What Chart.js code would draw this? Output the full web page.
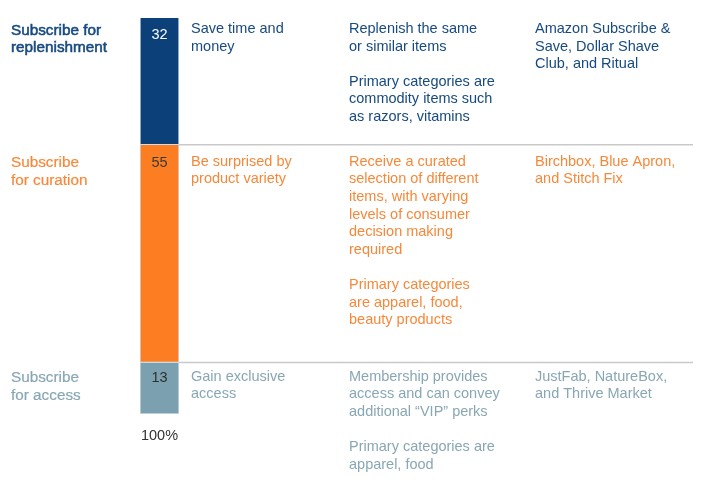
<!DOCTYPE html>
<html>
<head>
<meta charset="utf-8">
<script src="https://cdn.jsdelivr.net/npm/chart.js@4"></script>
<style>
  html, body { margin: 0; padding: 0; background: #fff; }
  #wrap { position: relative; width: 705px; height: 482px; }
</style>
</head>
<body>
<div id="wrap"><canvas id="modelChart"></canvas></div>
<script>
const models = ["Subscribe for\nreplenishment", "Subscribe\nfor curation", "Subscribe\nfor access"];
const shares = [32, 55, 13];
const barColors = ["#0b4079", "#fd7e22", "#7ba0b0"];
const textColors = ["#174a80", "#f7883a", "#88a7b4"];
const shareTextColors = ["#ffffff", "#3a3a3a", "#2f2f2f"];
const benefits = ["Save time and\nmoney", "Be surprised by\nproduct variety", "Gain exclusive\naccess"];
const descriptions = [
  "Replenish the same\nor similar items\n\nPrimary categories are\ncommodity items such\nas razors, vitamins",
  "Receive a curated\nselection of different\nitems, with varying\nlevels of consumer\ndecision making\nrequired\n\nPrimary categories\nare apparel, food,\nbeauty products",
  "Membership provides\naccess and can convey\nadditional \u201cVIP\u201d perks\n\nPrimary categories are\napparel, food",
];
const examples = [
  "Amazon Subscribe &\nSave, Dollar Shave\nClub, and Ritual",
  "Birchbox, Blue Apron,\nand Stitch Fix",
  "JustFab, NatureBox,\nand Thrive Market",
];
const totalLabel = "100%";

const FONT = "'Liberation Sans', Arial, Helvetica, sans-serif";
const LINE_H = 17.6;

function drawLines(ctx, text, x, y, stroke) {
  text.split("\n").forEach((line, i) => {
    ctx.fillText(line, x, y + i * LINE_H);
    if (stroke) ctx.strokeText(line, x, y + i * LINE_H);
  });
}

// text columns + dividers, anchored to each bar segment
const tablePlugin = {
  id: "table",
  afterDatasetsDraw(chart) {
    const ctx = chart.ctx;
    const area = chart.chartArea;
    const rowOffset = [11, 17, 14];
    const labelStroke = [0.55, 0.2, 0.2];
    ctx.save();
    ctx.textBaseline = "middle";
    shares.forEach((v, i) => {
      const bar = chart.getDatasetMeta(i).data[0];
      const top = Math.min(bar.y, bar.base);
      const bottom = Math.max(bar.y, bar.base);
      const ty = top + rowOffset[i];

      // divider under the row (not after the last one)
      if (i < shares.length - 1) {
        ctx.strokeStyle = "#c9c9c9";
        ctx.lineWidth = 1.5;
        ctx.beginPath();
        ctx.moveTo(area.right, bottom);
        ctx.lineTo(693, bottom);
        ctx.stroke();
      }

      // share value inside the bar
      ctx.fillStyle = shareTextColors[i];
      ctx.textAlign = "center";
      ctx.font = `14.5px ${FONT}`;
      ctx.fillText(String(v), bar.x, ty + (i === 0 ? 5.5 : 1.5));

      // left label (medium weight look)
      ctx.textAlign = "left";
      ctx.fillStyle = textColors[i];
      ctx.strokeStyle = textColors[i];
      ctx.lineWidth = labelStroke[i];
      ctx.font = `15.3px ${FONT}`;
      drawLines(ctx, models[i], 11, ty + 1.5, true);

      ctx.font = `14.5px ${FONT}`;
      drawLines(ctx, benefits[i], 191, ty);
      drawLines(ctx, descriptions[i], 349, ty);
      drawLines(ctx, examples[i], 535, ty);
    });

    ctx.fillStyle = "#333";
    ctx.textAlign = "center";
    ctx.font = `14.5px ${FONT}`;
    ctx.fillText(totalLabel, (area.left + area.right) / 2, area.bottom + 22);
    ctx.restore();
  },
};

new Chart(document.getElementById("modelChart").getContext("2d"), {
  type: "bar",
  data: {
    labels: [""],
    datasets: shares.map((v, i) => ({
      label: models[i].replace("\n", " "),
      data: [v],
      backgroundColor: barColors[i],
      borderColor: "rgba(205,218,228,0.9)",
      borderWidth: 1,
      barPercentage: 1,
      categoryPercentage: 1,
    })),
  },
  options: {
    responsive: true,
    maintainAspectRatio: false,
    animation: false,
    layout: { padding: { left: 140, right: 526, top: 18, bottom: 68 } },
    plugins: { legend: { display: false }, tooltip: { enabled: false } },
    scales: {
      x: { stacked: true, display: false },
      y: { stacked: true, display: false, reverse: true, min: 0, max: 100 },
    },
  },
  plugins: [tablePlugin],
});
</script>
</body>
</html>
